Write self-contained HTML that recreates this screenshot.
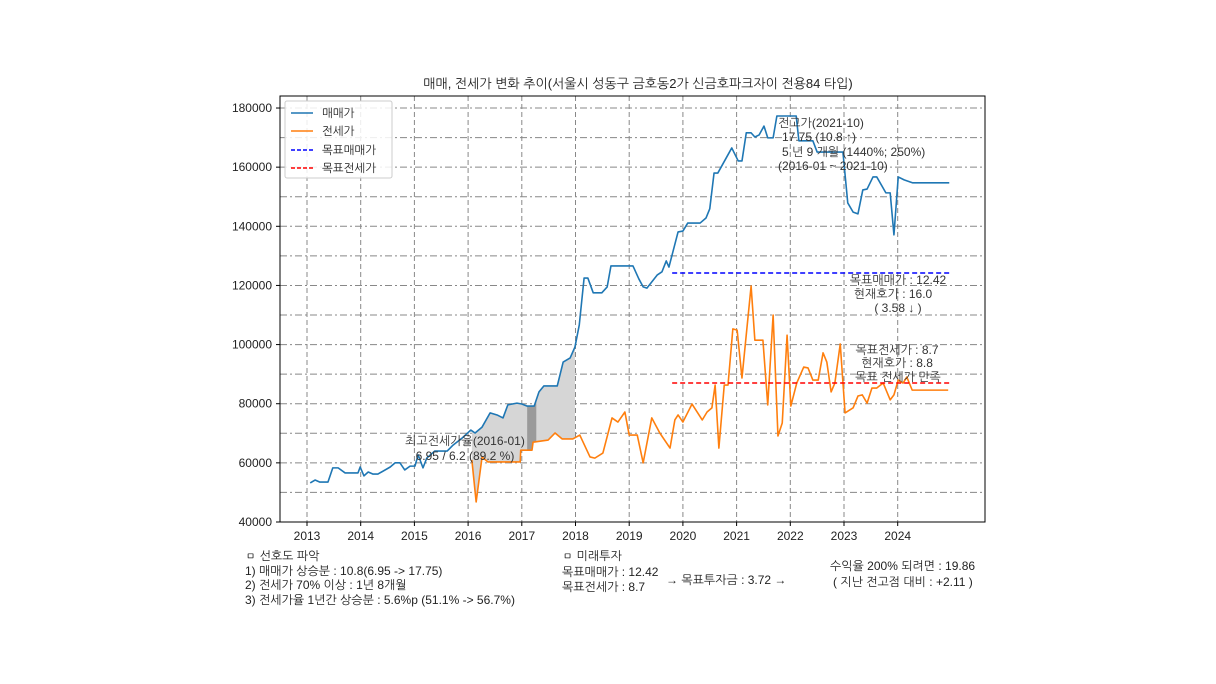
<!DOCTYPE html>
<html><head><meta charset="utf-8">
<style>
html,body{margin:0;padding:0;background:#fff;}
svg{display:block;font-family:"Liberation Sans","NanumGothic","Noto Sans CJK KR",sans-serif;}
</style></head>
<body>
<svg id="chart" width="1216" height="684" viewBox="0 0 1216 684">
<rect width="1216" height="684" fill="#fff"/>
<g id="grid"></g>
<g id="fills"></g>
<g id="series"></g>
<rect x="280" y="96" width="705" height="426" fill="none" stroke="#000" stroke-width="1"/>
<g id="axes" font-size="12" fill="#222"></g>
<text x="638" y="88" text-anchor="middle" font-size="13" fill="#222">매매, 전세가 변화 추이(서울시 성동구 금호동2가 신금호파크자이 전용84 타입)</text>

<g>
<rect x="285" y="101" width="107" height="77" fill="#fff" fill-opacity="0.85" stroke="#ccc" rx="2"/>
<line x1="291" y1="113" x2="313" y2="113" stroke="#1f77b4" stroke-width="1.5"/>
<text x="322" y="117" font-size="11.5" fill="#222">매매가</text>
<line x1="291" y1="131" x2="313" y2="131" stroke="#ff7f0e" stroke-width="1.5"/>
<text x="322" y="135" font-size="11.5" fill="#222">전세가</text>
<line x1="291" y1="150" x2="313" y2="150" stroke="#0000ff" stroke-width="1.5" stroke-dasharray="4,2"/>
<text x="322" y="154" font-size="11.5" fill="#222">목표매매가</text>
<line x1="291" y1="168" x2="313" y2="168" stroke="#ff0000" stroke-width="1.5" stroke-dasharray="4,2"/>
<text x="322" y="172" font-size="11.5" fill="#222">목표전세가</text>
</g>

<g font-size="12" fill="#333">
<text x="465" y="445" text-anchor="middle">최고전세가율(2016-01)</text>
<text x="465" y="460" text-anchor="middle">6.95 / 6.2 (89.2 %)</text>
<text x="778" y="127">전고가(2021-10)</text>
<text x="782" y="141">17.75 (10.8 ↑)</text>
<text x="782" y="156">5 년 9 개월 (1440%; 250%)</text>
<text x="778" y="170">(2016-01 ~ 2021-10)</text>
<text x="898" y="284" text-anchor="middle">목표매매가 : 12.42</text>
<text x="893" y="298" text-anchor="middle">현재호가 : 16.0</text>
<text x="898" y="312" text-anchor="middle">( 3.58 ↓ )</text>
<text x="897" y="354" text-anchor="middle">목표전세가 : 8.7</text>
<text x="897" y="367" text-anchor="middle">현재호가 : 8.8</text>
<text x="898" y="381" text-anchor="middle">목표 전세가 만족</text>
</g>

<g font-size="12" fill="#222">
<text x="245" y="560">ㅁ 선호도 파악</text>
<text x="245" y="575">1) 매매가 상승분 : 10.8(6.95 -&gt; 17.75)</text>
<text x="245" y="589">2) 전세가 70% 이상 : 1년 8개월</text>
<text x="245" y="604">3) 전세가율 1년간 상승분 : 5.6%p (51.1% -&gt; 56.7%)</text>
<text x="562" y="560">ㅁ 미래투자</text>
<text x="562" y="576">목표매매가 : 12.42</text>
<text x="562" y="591">목표전세가 : 8.7</text>
<text x="666" y="584">→  목표투자금 : 3.72  →</text>
<text x="830" y="570">수익율 200% 되려면 : 19.86</text>
<text x="833" y="586">( 지난 전고점 대비 : +2.11 )</text>
</g>
</svg>
<script>
const saleDates=[2013.06,2013.15,2013.24,2013.39,2013.48,2013.58,2013.71,2013.95,2013.99,2014.06,2014.14,2014.23,2014.32,2014.55,2014.64,2014.73,2014.82,2014.92,2015.01,2015.07,2015.16,2015.23,2015.38,2015.61,2015.72,2015.89,2016.05,2016.13,2016.26,2016.41,2016.54,2016.65,2016.74,2016.91,2017.00,2017.10,2017.23,2017.32,2017.41,2017.66,2017.77,2017.90,2017.99,2018.07,2018.16,2018.23,2018.33,2018.49,2018.59,2018.66,2019.07,2019.18,2019.26,2019.33,2019.52,2019.61,2019.69,2019.74,2019.91,2020.00,2020.09,2020.32,2020.43,2020.50,2020.58,2020.65,2020.91,2021.03,2021.10,2021.18,2021.27,2021.34,2021.42,2021.51,2021.58,2021.68,2021.75,2022.11,2022.16,2022.42,2022.50,2022.98,2023.07,2023.17,2023.26,2023.35,2023.43,2023.54,2023.61,2023.78,2023.86,2023.93,2024.01,2024.12,2024.28,2024.96];
const saleValues=[53200,54200,53500,53500,58300,58300,56600,56600,58600,55600,56900,56200,56200,58600,60000,60000,57600,58900,58900,62700,58300,61600,64000,64000,66000,68400,71100,70100,72100,76900,76200,75200,79600,80200,79900,79200,79200,84000,86000,86000,94100,95500,99200,106600,122500,122500,117500,117500,119500,126600,126600,122200,119500,119100,123500,124600,128300,126200,138100,138400,141100,141100,142800,145900,158000,158000,166500,162100,162100,171600,171600,170200,170900,173900,169900,169900,177300,177300,168900,168900,165100,165100,147900,144800,144200,152300,152600,156700,156700,151300,151300,137100,156700,155700,154700,154700];
const jeonseDates=[2016.07,2016.15,2016.26,2016.37,2016.97,2016.98,2017.19,2017.21,2017.49,2017.62,2017.75,2017.95,2018.08,2018.27,2018.36,2018.51,2018.68,2018.79,2018.92,2019.00,2019.15,2019.26,2019.42,2019.57,2019.76,2019.85,2019.91,2020.00,2020.17,2020.36,2020.45,2020.54,2020.60,2020.67,2020.77,2020.84,2020.93,2021.01,2021.10,2021.27,2021.34,2021.49,2021.58,2021.68,2021.77,2021.85,2021.94,2022.01,2022.12,2022.25,2022.33,2022.42,2022.52,2022.61,2022.68,2022.76,2022.83,2022.93,2023.02,2023.17,2023.26,2023.34,2023.43,2023.52,2023.61,2023.73,2023.86,2023.93,2024.01,2024.10,2024.17,2024.27,2024.94];
const jeonseValues=[61000,46800,62000,60300,60300,64300,64300,67000,67700,70100,68100,68100,69400,62000,61600,63300,75200,73800,77200,69400,69400,60000,75200,70100,65000,74500,76200,73800,79900,74500,77200,78600,86300,65000,86300,86300,105300,104900,88700,119800,101500,101500,79600,110000,69100,73500,103200,79200,87000,92400,92100,88000,88000,97200,94100,84000,87000,100200,76900,78600,82600,83000,80200,85300,85300,87000,81300,83000,88000,87000,89000,84600,84600];
const targetSale=124200, targetJeonse=87000, targetStart=2019.8, targetEnd=2024.96;
const fillRange=[2016.07,2017.99], darkRange=[2017.10,2017.27];
const yTicks=[40000,60000,80000,100000,120000,140000,160000,180000];
const xTicks=[2013,2014,2015,2016,2017,2018,2019,2020,2021,2022,2023,2024];

const NS="http://www.w3.org/2000/svg";
const X0=280,X1=985,Y0=96,Y1=522;
function sx(t){return 307+(t-2013)*53.7;}
function sy(v){return 522-(v-40000)/20000*59.14;}
function mk(tag,attrs,parent){const e=document.createElementNS(NS,tag);for(const k in attrs)e.setAttribute(k,attrs[k]);parent.appendChild(e);return e;}
function interp(ds,vs,t){if(t<=ds[0])return vs[0];for(let i=1;i<ds.length;i++){if(t<=ds[i]){const f=(t-ds[i-1])/(ds[i]-ds[i-1]);return vs[i-1]+f*(vs[i]-vs[i-1]);}}return vs[vs.length-1];}

const grid=document.getElementById('grid'),axes=document.getElementById('axes');
for(let v=40000;v<=190000;v+=10000){const y=sy(v);if(y<Y0||y>Y1)continue;
 const l=mk('line',{x1:X0,x2:X1,y1:y,y2:y,stroke:'#888','stroke-width':1,'stroke-dasharray':'7,3,2,3'},grid);
 
 }
xTicks.forEach(t=>{const x=sx(t);
 const l=mk('line',{x1:x,x2:x,y1:Y0,y2:Y1,stroke:'#888','stroke-width':1,'stroke-dasharray':'5,3'},grid);
 
 
 mk('line',{x1:x,x2:x,y1:Y1,y2:Y1+4,stroke:'#000'},axes);
 const tx=mk('text',{x:x,y:Y1+18,'text-anchor':'middle'},axes);tx.textContent=t;
 
 });
yTicks.forEach(v=>{const y=sy(v);
 mk('line',{x1:X0-4,x2:X0,y1:y,y2:y,stroke:'#000'},axes);
 const tx=mk('text',{x:X0-8,y:y+4,'text-anchor':'end'},axes);tx.textContent=v;
 
 });

const fills=document.getElementById('fills');
function band(r,color,name){const top=[],bot=[];
 for(let t=r[0];t<=r[1]+1e-9;t+=0.01){top.push(sx(t)+','+sy(interp(saleDates,saleValues,t)));bot.unshift(sx(t)+','+sy(interp(jeonseDates,jeonseValues,t)));}
 const p=mk('polygon',{points:top.concat(bot).join(' '),fill:color},fills);
 
 }
band(fillRange,'#d6d6d6','ratio-fill');
band(darkRange,'#9a9a9a','ratio-fill-dark');

const series=document.getElementById('series');
function line(ds,vs,color,name){const p=mk('polyline',{points:ds.map((d,i)=>sx(d)+','+sy(vs[i])).join(' '),fill:'none',stroke:color,'stroke-width':1.6,'stroke-linejoin':'round'},series);
 
 }
line(saleDates,saleValues,'#1f77b4','sale-price-line');
line(jeonseDates,jeonseValues,'#ff7f0e','jeonse-price-line');
const t1=mk('line',{x1:sx(targetStart),x2:sx(targetEnd),y1:sy(targetSale),y2:sy(targetSale),stroke:'#0000ff','stroke-width':1.5,'stroke-dasharray':'5,3'},series);


const t2=mk('line',{x1:sx(targetStart),x2:sx(targetEnd),y1:sy(targetJeonse),y2:sy(targetJeonse),stroke:'#ff0000','stroke-width':1.5,'stroke-dasharray':'5,3'},series);


</script>
</body></html>
